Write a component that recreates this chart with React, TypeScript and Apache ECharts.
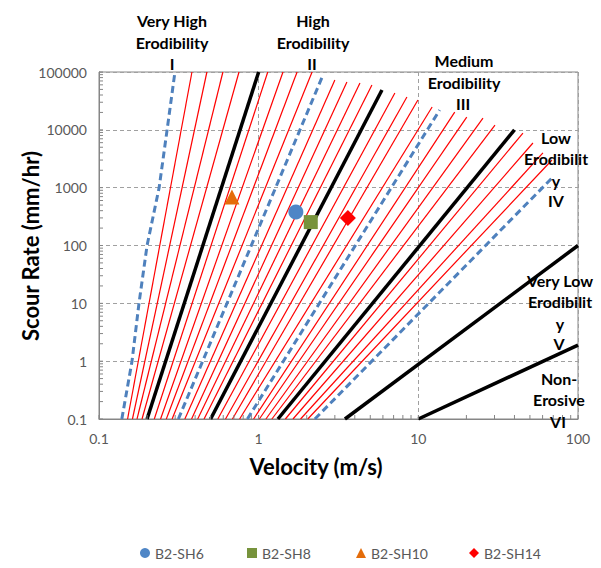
import React, { useEffect, useRef } from "react";
import * as echarts from "echarts";

// ---------- data (velocity in m/s, scour rate in mm/hr) ----------
const xTickValues = [0.1, 1, 10, 100];
const yTickValues = [0.1, 1, 10, 100, 1000, 10000, 100000];
const minorSteps = [2, 3, 4, 5, 6, 7, 8, 9];

// thin red guide lines: velocity where each meets 0.1 mm/hr, and the top end point
const redBottomV = [
  0.151, 0.162, 0.173, 0.186, 0.222, 0.243, 0.264, 0.287,
  0.345, 0.38, 0.415, 0.455, 0.555, 0.62, 0.685, 0.76,
  0.93, 1.01, 1.11, 1.21, 1.47, 1.64, 1.83, 2.03,
];
const redTopV = [
  0.382, 0.474, 0.597, 0.753, 1.14, 1.42, 1.74, 2.16,
  3.0, 3.57, 4.31, 5.12, 7.13, 8.48, 9.94, 12.2,
  16.9, 20.1, 25.4, 30.2, 45.2, 52.2, 60.3, 68.7,
];
const redTopRate = [
  100000, 100000, 100000, 100000, 100000, 100000, 100000, 100000,
  72800, 67100, 64500, 59600, 43400, 36900, 32800, 24800,
  20300, 16600, 16000, 12100, 8800, 5920, 3990, 3010,
];

// thick black category boundaries
const boundaryBottomV = [0.2, 0.5, 1.32, 3.47, 10];
const boundaryTopV = [1, 5.92, 40, 100, 100];
const boundaryTopRate = [100000, 48800, 10000, 100, 1.9];

// blue dashed category centre lines
const dashedIVelocity = [0.139, 0.161, 0.178, 0.2, 0.238, 0.267, 0.299];
const dashedIRate = [0.1, 1, 10, 100, 1000, 10000, 100000];
const dashedBottomV = [0.314, 0.85, 2.25];
const dashedTopV = [2.53, 13.6, 69.6];
const dashedTopRate = [88700, 22000, 1520];

// test points
const sampleNames = ["B2-SH6", "B2-SH8", "B2-SH10", "B2-SH14"];
const sampleVelocity = [1.71, 2.12, 0.68, 3.62];
const sampleRate = [378, 254, 690, 298];
const sampleColors = ["#4F86C6", "#77933C", "#E46C0A", "#FF0000"];
const sampleSymbols = ["circle", "rect", "triangle", "diamond"];
const sampleSizes = [15, 14, 15, 16];

const FONT = "Lato, 'Open Sans', sans-serif";

function lineSeries(data: number[][], color: string, width: number, type: any, z: number) {
  return {
    type: "line",
    data,
    symbol: "none",
    showSymbol: false,
    silent: true,
    clip: true,
    z,
    lineStyle: { color, width, type, cap: "butt" },
    emphasis: { disabled: true },
  };
}

function buildOption() {
  const series: any[] = [];
  redBottomV.forEach((v, i) => {
    series.push(lineSeries([[v, 0.1], [redTopV[i], redTopRate[i]]], "#FF0000", 1.2, "solid", 2));
  });
  series.push(
    lineSeries(dashedIVelocity.map((v, i) => [v, dashedIRate[i]]), "#4F81BD", 3, [7, 4], 3)
  );
  dashedBottomV.forEach((v, i) => {
    series.push(lineSeries([[v, 0.1], [dashedTopV[i], dashedTopRate[i]]], "#4F81BD", 3, [7, 4], 3));
  });
  boundaryBottomV.forEach((v, i) => {
    series.push(lineSeries([[v, 0.1], [boundaryTopV[i], boundaryTopRate[i]]], "#000000", 3.5, "solid", 4));
  });
  sampleNames.forEach((name, i) => {
    series.push({
      type: "scatter",
      name,
      data: [[sampleVelocity[i], sampleRate[i]]],
      symbol: sampleSymbols[i],
      symbolSize: sampleSizes[i],
      itemStyle: { color: sampleColors[i], opacity: 1 },
      z: 5,
      silent: true,
    });
  });

  const decades = [0.1, 1, 10, 1000, 100, 10000];
  const xMinor: number[] = [];
  [0.1, 1, 10].forEach((d) => minorSteps.forEach((m) => xMinor.push(+(d * m).toPrecision(3))));
  const yMinor: number[] = [];
  decades.forEach((d) => minorSteps.forEach((m) => yMinor.push(+(d * m).toPrecision(3))));

  series.push({
    type: "custom",
    silent: true,
    z: 6,
    clip: false,
    data: xMinor.concat(xTickValues).map((v) => [v, 0.1]),
    renderItem: (_p: any, api: any) => {
      const pt = api.coord([api.value(0), api.value(1)]);
      return {
        type: "line",
        shape: { x1: pt[0], y1: pt[1], x2: pt[0], y2: pt[1] - 4 },
        style: { stroke: "#868686", lineWidth: 1 },
      };
    },
  });
  series.push({
    type: "custom",
    silent: true,
    z: 6,
    clip: false,
    data: yMinor.concat(yTickValues).map((v) => [0.1, v]),
    renderItem: (_p: any, api: any) => {
      const pt = api.coord([api.value(0), api.value(1)]);
      return {
        type: "line",
        shape: { x1: pt[0], y1: pt[1], x2: pt[0] + 4, y2: pt[1] },
        style: { stroke: "#868686", lineWidth: 1 },
      };
    },
  });

  const labelText = (text: string, x: number, y: number, size = 16) => ({
    type: "text",
    x,
    y,
    silent: true,
    z: 10,
    style: {
      text,
      font: `bold ${size}px ${FONT}`,
      fill: "#000",
      align: "center",
      verticalAlign: "middle",
      textAlign: "center",
      textVerticalAlign: "middle",
    },
  });

  const fmt = (v: number) => String(+Number(v).toPrecision(6));
  const legendPos = [135, 242, 351, 464];

  return {
    animation: false,
    backgroundColor: "#ffffff",
    grid: {
      left: 99,
      top: 72,
      width: 479,
      height: 347,
      show: true,
      borderColor: "#868686",
      borderWidth: 1,
      containLabel: false,
      outerBoundsMode: "none",
    },
    xAxis: {
      type: "log",
      logBase: 10,
      min: 0.1,
      max: 100,
      splitNumber: 3,
      axisLine: { show: true, lineStyle: { color: "#868686", width: 1 } },
      axisTick: { show: false },
      axisLabel: { margin: 12, fontSize: 14, color: "#595959", fontFamily: FONT, formatter: fmt },
      splitLine: { show: true, lineStyle: { color: "#A0A0A0", width: 1, type: [4, 3] } },
    },
    yAxis: {
      type: "log",
      logBase: 10,
      min: 0.1,
      max: 100000,
      splitNumber: 6,
      axisLine: { show: true, lineStyle: { color: "#868686", width: 1 } },
      axisTick: { show: false },
      axisLabel: { margin: 12, fontSize: 14, color: "#595959", fontFamily: FONT, formatter: fmt },
      splitLine: { show: true, lineStyle: { color: "#A0A0A0", width: 1, type: [4, 3] } },
    },
    legend: sampleNames.map((name, i) => ({
      data: [{ name, icon: sampleSymbols[i] }],
      left: legendPos[i],
      top: 541,
      itemWidth: 10,
      itemHeight: 10,
      itemGap: 5,
      selectedMode: false,
      textStyle: { fontSize: 14, color: "#595959", fontFamily: FONT },
    })),
    graphic: [
      labelText("Very High", 172, 20),
      labelText("Erodibility", 172, 42),
      labelText("I", 172, 63),
      labelText("High", 313, 20),
      labelText("Erodibility", 313, 42),
      labelText("II", 312, 63),
      labelText("Medium", 464, 60),
      labelText("Erodibility", 464, 82),
      labelText("III", 463, 103),
      labelText("Low", 556, 137),
      labelText("Erodibilit", 556, 158),
      labelText("y", 556, 180),
      labelText("IV", 556, 200),
      labelText("Very Low", 560, 280),
      labelText("Erodibilit", 560, 301),
      labelText("y", 560, 323),
      labelText("V", 559, 343),
      labelText("Non-", 559, 378),
      labelText("Erosive", 559, 399),
      labelText("VI", 558, 421),
      {
        type: "text",
        x: 30,
        y: 246,
        rotation: Math.PI / 2,
        silent: true,
        style: {
          text: "Scour Rate (mm/hr)",
          font: `bold 22px ${FONT}`,
          fill: "#000",
          align: "center",
          verticalAlign: "middle",
          textAlign: "center",
          textVerticalAlign: "middle",
        },
      },
      labelText("Velocity (m/s)", 316, 466, 22),
    ],
    series,
  };
}

export default function App() {
  const ref = useRef<HTMLDivElement>(null);
  useEffect(() => {
    if (!ref.current) return;
    const chart = echarts.init(ref.current, null, { renderer: "svg" });
    chart.setOption(buildOption() as any);
    return () => chart.dispose();
  }, []);
  return (
    <div
      ref={ref}
      style={{ position: "fixed", left: 0, top: 0, width: 601, height: 568, background: "#fff" }}
    />
  );
}
